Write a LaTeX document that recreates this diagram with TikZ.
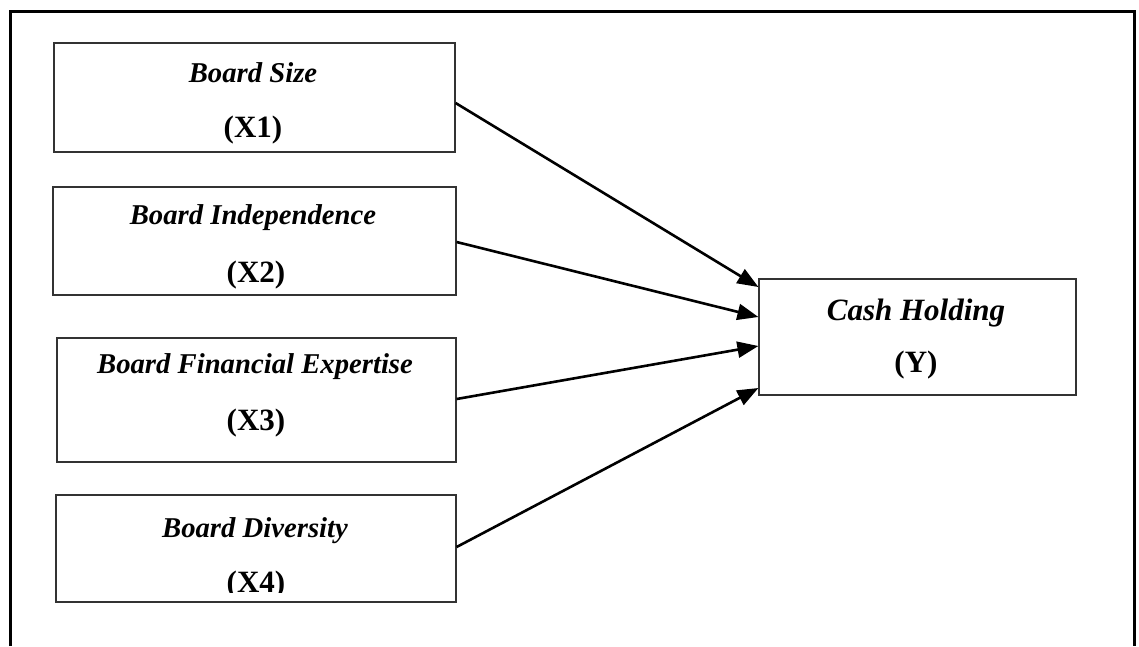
\documentclass[tikz,border=0pt]{standalone}
\usepackage{fontspec}
\setmainfont{Liberation Serif}
\usetikzlibrary{arrows.meta}
\tikzset{
  varbox/.style={draw=black!80, line width=1.2pt, rectangle, inner sep=0pt},
  lbl/.style={anchor=base, inner sep=0pt, font=\fontsize{28.7}{28.7}\selectfont\bfseries\itshape},
  lblbig/.style={anchor=base, inner sep=0pt, font=\fontsize{31}{31}\selectfont\bfseries\itshape},
  code/.style={anchor=base, inner sep=0pt, font=\fontsize{31}{31}\selectfont\bfseries},
  codebig/.style={anchor=base, inner sep=0pt, font=\fontsize{31}{31}\selectfont\bfseries},
  arr/.style={line width=2.6pt, -{Triangle[length=21pt,width=16pt]}},
  frame/.style={line width=3pt}
}
\begin{document}
\begin{tikzpicture}[x=1pt,y=-1pt]
\useasboundingbox (0,0) rectangle (1139,646);
% outer frame (open at bottom)
\coordinate (fbl) at (10,646);
\coordinate (ftl) at (10,11.5);
\coordinate (ftr) at (1134,11.5);
\coordinate (fbr) at (1134,646);
\draw[frame] (fbl) -- (ftl) -- (ftr) -- (fbr);
% boxes
\node[varbox, minimum width=401pt, minimum height=109pt] (x1) at (254.5,97.5) {};
\node[varbox, minimum width=403pt, minimum height=108pt] (x2) at (254.5,241) {};
\node[varbox, minimum width=399pt, minimum height=124pt] (x3) at (256.5,400) {};
\node[varbox, minimum width=400pt, minimum height=107pt] (x4) at (256,548.5) {};
\node[varbox, minimum width=317pt, minimum height=116pt] (y) at (917.5,337) {};
% labels
\node[lbl] (t1) at (253,82) {Board Size};
\node[code] (c1) at (253,137) {(X1)};
\node[lbl] (t2) at (253,224) {Board Independence};
\node[code] (c2) at (256,282) {(X2)};
\node[lbl] (t3) at (255,373) {Board Financial Expertise};
\node[code] (c3) at (256,430) {(X3)};
\node[lbl] (t4) at (255,537) {Board Diversity};
\begin{scope}
  \clip (0,0) rectangle (1139,592);
  \node[code] (c4) at (256,592) {(X4)};
\end{scope}
\node[lblbig] (ty) at (916,320) {Cash Holding};
\node[codebig] (cy) at (916,372) {(Y)};
% connectors
\draw[arr] (x1.east |- 0,103) -- (y.west |- 0,287);
\draw[arr] (x2.east |- 0,242) -- (y.west |- 0,317);
\draw[arr] (x3.east |- 0,399) -- (y.west |- 0,346);
\draw[arr] (x4.east |- 0,547) -- (y.west |- 0,388);
\end{tikzpicture}
\end{document}
